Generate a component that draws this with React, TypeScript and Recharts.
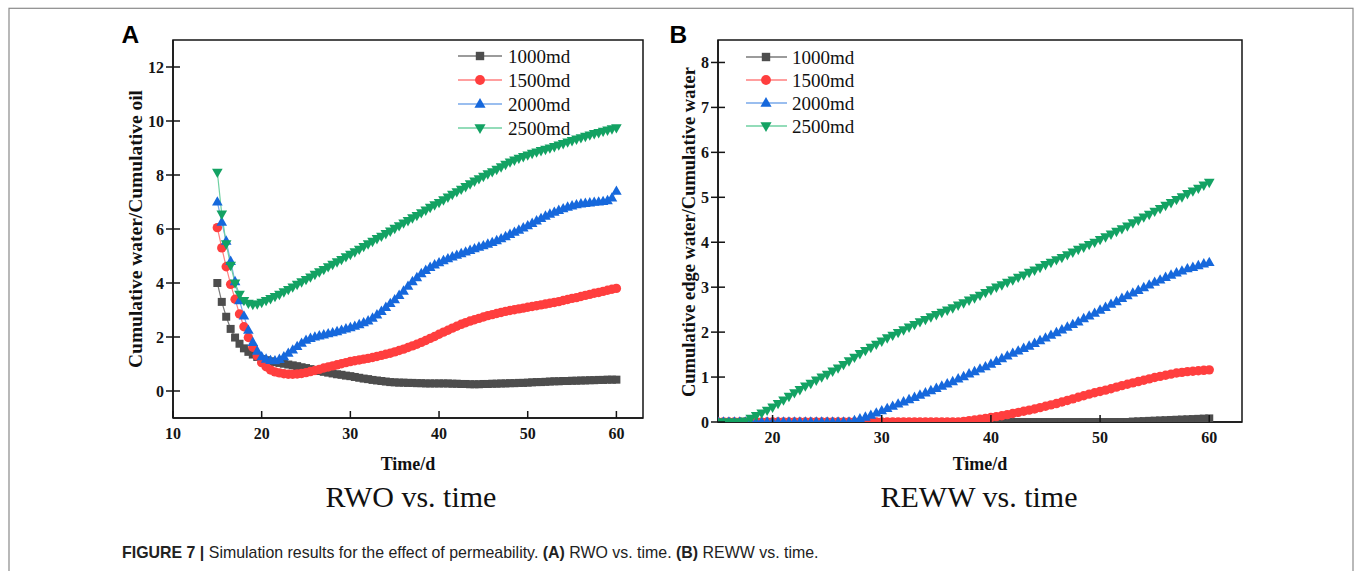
import React from 'react';
import { LineChart, Line, XAxis, YAxis, ReferenceArea } from 'recharts';

// ---------- data ----------
const seriesNames = ['1000md', '1500md', '2000md', '2500md'];

// time (days), sampled every half day from 15 to 60
const timeA = [
  15, 15.5, 16, 16.5, 17, 17.5, 18, 18.5, 19, 19.5,
  20, 20.5, 21, 21.5, 22, 22.5, 23, 23.5, 24, 24.5,
  25, 25.5, 26, 26.5, 27, 27.5, 28, 28.5, 29, 29.5,
  30, 30.5, 31, 31.5, 32, 32.5, 33, 33.5, 34, 34.5,
  35, 35.5, 36, 36.5, 37, 37.5, 38, 38.5, 39, 39.5,
  40, 40.5, 41, 41.5, 42, 42.5, 43, 43.5, 44, 44.5,
  45, 45.5, 46, 46.5, 47, 47.5, 48, 48.5, 49, 49.5,
  50, 50.5, 51, 51.5, 52, 52.5, 53, 53.5, 54, 54.5,
  55, 55.5, 56, 56.5, 57, 57.5, 58, 58.5, 59, 59.5,
  60,
];
// (A) RWO
const rwo1000 = [
  4.0, 3.3, 2.75, 2.3, 1.98, 1.75, 1.58, 1.45, 1.35, 1.26,
  1.18, 1.14, 1.1, 1.07, 1.04, 1.01, 0.98, 0.95, 0.92, 0.88,
  0.85, 0.81, 0.78, 0.74, 0.71, 0.68, 0.65, 0.62, 0.6, 0.57,
  0.55, 0.52, 0.49, 0.46, 0.44, 0.41, 0.39, 0.37, 0.35, 0.33,
  0.32, 0.31, 0.31, 0.3, 0.3, 0.29, 0.29, 0.28, 0.28, 0.28,
  0.28, 0.28, 0.28, 0.27, 0.27, 0.26, 0.26, 0.25, 0.25, 0.25,
  0.26, 0.26, 0.27, 0.27, 0.28, 0.28, 0.29, 0.29, 0.3, 0.3,
  0.31, 0.32, 0.33, 0.33, 0.34, 0.35, 0.36, 0.36, 0.37, 0.37,
  0.38, 0.38, 0.39, 0.39, 0.4, 0.4, 0.41, 0.41, 0.42, 0.42,
  0.42,
];
const rwo1500 = [
  6.05, 5.3, 4.6, 3.95, 3.4, 2.85, 2.38, 1.98, 1.62, 1.3,
  1.05, 0.9, 0.78, 0.71, 0.67, 0.64, 0.62, 0.62, 0.63, 0.65,
  0.68, 0.72, 0.76, 0.8, 0.85, 0.89, 0.93, 0.97, 1.01, 1.05,
  1.09, 1.12, 1.15, 1.18, 1.21, 1.24, 1.28, 1.32, 1.36, 1.4,
  1.45, 1.5, 1.55, 1.61, 1.67, 1.73, 1.8, 1.87, 1.95, 2.02,
  2.1, 2.18, 2.25, 2.33, 2.4, 2.47, 2.53, 2.59, 2.64, 2.69,
  2.74, 2.79, 2.83, 2.87, 2.91, 2.95, 2.98, 3.01, 3.04, 3.07,
  3.1, 3.13, 3.16, 3.19, 3.22, 3.25, 3.28, 3.31, 3.35, 3.39,
  3.43, 3.46, 3.5, 3.54, 3.58, 3.62, 3.65, 3.69, 3.73, 3.77,
  3.8,
];
const rwo2000 = [
  7.0, 6.25, 5.55, 4.8, 4.05, 3.35, 2.78, 2.25, 1.8, 1.48,
  1.27, 1.18, 1.13, 1.12, 1.17, 1.27, 1.4, 1.52, 1.65, 1.77,
  1.88, 1.95, 2.0, 2.04, 2.08, 2.12, 2.16, 2.2, 2.25, 2.3,
  2.35, 2.4, 2.46, 2.53, 2.6, 2.7, 2.82, 2.95, 3.1, 3.24,
  3.38, 3.54, 3.7, 3.88, 4.05, 4.2, 4.35, 4.47, 4.58, 4.67,
  4.75, 4.83, 4.9, 4.97, 5.03, 5.09, 5.15, 5.21, 5.27, 5.33,
  5.38, 5.44, 5.5, 5.57, 5.64, 5.72, 5.8, 5.88, 5.96, 6.04,
  6.12, 6.21, 6.3, 6.39, 6.48, 6.55, 6.62, 6.69, 6.75, 6.81,
  6.86, 6.9, 6.93, 6.95, 6.97, 6.99, 7.0, 7.02, 7.05, 7.15,
  7.4,
];
const rwo2500 = [
  8.1, 6.55, 5.45, 4.65, 4.0, 3.58, 3.35, 3.25, 3.21, 3.22,
  3.28, 3.35, 3.42, 3.5, 3.58, 3.67, 3.76, 3.85, 3.95, 4.04,
  4.13, 4.22, 4.32, 4.41, 4.5, 4.6, 4.69, 4.78, 4.87, 4.97,
  5.06, 5.15, 5.25, 5.35, 5.45, 5.54, 5.64, 5.73, 5.83, 5.92,
  6.02, 6.12, 6.22, 6.31, 6.41, 6.5, 6.6, 6.7, 6.8, 6.89,
  6.98, 7.08, 7.18, 7.28, 7.38, 7.47, 7.57, 7.67, 7.77, 7.86,
  7.95, 8.04, 8.12, 8.21, 8.3, 8.39, 8.48, 8.55, 8.62, 8.68,
  8.74, 8.8, 8.85, 8.9, 8.95, 9.0, 9.05, 9.11, 9.16, 9.22,
  9.27, 9.33, 9.38, 9.43, 9.48, 9.53, 9.57, 9.62, 9.66, 9.71,
  9.75,
];

// (B) REWW, same half-day sampling
const timeB = timeA;
const reww1000 = [
  0, 0, 0, 0, 0, 0, 0, 0, 0, 0,
  0, 0, 0, 0, 0, 0, 0, 0, 0, 0,
  0, 0, 0, 0, 0, 0, 0, 0, 0, 0,
  0, 0, 0, 0, 0, 0, 0, 0, 0, 0,
  0, 0, 0, 0, 0, 0, 0, 0, 0, 0,
  0, 0, 0, 0, 0, 0, 0, 0, 0, 0,
  0, 0, 0, 0, 0, 0, 0, 0, 0, 0,
  0, 0, 0, 0, 0, 0, 0.01, 0.015, 0.02, 0.025,
  0.03, 0.035, 0.04, 0.045, 0.05, 0.055, 0.06, 0.065, 0.07, 0.075,
  0.08,
];
const reww1500 = [
  0, 0, 0, 0, 0, 0, 0, 0, 0, 0,
  0, 0, 0, 0, 0, 0, 0, 0, 0, 0,
  0, 0, 0, 0, 0, 0, 0, 0, 0, 0,
  0, 0, 0, 0, 0, 0, 0, 0, 0, 0,
  0, 0, 0, 0, 0, 0.015, 0.03, 0.045, 0.06, 0.08,
  0.1, 0.12, 0.14, 0.165, 0.19, 0.215, 0.24, 0.265, 0.29, 0.32,
  0.35, 0.38, 0.41, 0.445, 0.48, 0.515, 0.55, 0.585, 0.62, 0.65,
  0.68, 0.71, 0.74, 0.775, 0.81, 0.84, 0.87, 0.9, 0.93, 0.96,
  0.99, 1.015, 1.04, 1.065, 1.09, 1.105, 1.12, 1.13, 1.14, 1.15,
  1.16,
];
const reww2000 = [
  0, 0, 0, 0, 0, 0, 0, 0, 0, 0,
  0, 0, 0, 0, 0, 0, 0, 0, 0, 0,
  0, 0, 0, 0, 0, 0.035, 0.07, 0.11, 0.15, 0.2,
  0.25, 0.3, 0.35, 0.4, 0.45, 0.5, 0.55, 0.6, 0.65, 0.7,
  0.75, 0.8, 0.85, 0.9, 0.96, 1.01, 1.07, 1.12, 1.18, 1.23,
  1.29, 1.35, 1.41, 1.47, 1.53, 1.58, 1.64, 1.69, 1.75, 1.81,
  1.87, 1.93, 1.99, 2.05, 2.11, 2.17, 2.23, 2.3, 2.36, 2.42,
  2.49, 2.55, 2.62, 2.68, 2.75, 2.81, 2.87, 2.93, 2.99, 3.05,
  3.11, 3.16, 3.22, 3.27, 3.32, 3.36, 3.41, 3.44, 3.48, 3.52,
  3.55,
];
const reww2500 = [
  0, 0, 0, 0, 0, 0.02, 0.08, 0.14, 0.2, 0.26,
  0.33, 0.41, 0.49, 0.57, 0.65, 0.72, 0.8, 0.86, 0.93, 1.0,
  1.06, 1.13, 1.2, 1.28, 1.36, 1.44, 1.52, 1.59, 1.66, 1.73,
  1.8, 1.87, 1.93, 1.99, 2.05, 2.11, 2.17, 2.23, 2.28, 2.34,
  2.39, 2.44, 2.49, 2.54, 2.6, 2.65, 2.71, 2.76, 2.82, 2.88,
  2.94, 3.0, 3.05, 3.11, 3.16, 3.22, 3.27, 3.33, 3.38, 3.44,
  3.5, 3.55, 3.61, 3.66, 3.72, 3.78, 3.84, 3.89, 3.95, 4.0,
  4.06, 4.12, 4.18, 4.24, 4.3, 4.36, 4.43, 4.49, 4.56, 4.62,
  4.69, 4.75, 4.82, 4.88, 4.95, 5.01, 5.08, 5.14, 5.2, 5.27,
  5.33,
];

const ticksAX = [10, 20, 30, 40, 50, 60];
const ticksAY = [0, 2, 4, 6, 8, 10, 12];
const ticksBX = [20, 30, 40, 50, 60];
const ticksBY = [0, 1, 2, 3, 4, 5, 6, 7, 8];

const dataA = timeA.map((t, i) => ({ t, s1: rwo1000[i], s2: rwo1500[i], s3: rwo2000[i], s4: rwo2500[i] }));
const dataB = timeB.map((t, i) => ({ t, s1: reww1000[i], s2: reww1500[i], s3: reww2000[i], s4: reww2500[i] }));

// ---------- styles ----------
const SERIF = "'Liberation Serif', 'Times New Roman', serif";
const SANS = "'Liberation Sans', Arial, sans-serif";
const AX = '#151515';
const markerColors = ['#4d4d4d', '#ff3e3e', '#1668dc', '#13a263'];
const lineColors = ['#7a7a7a', '#ff7f7f', '#78a8ea', '#6fd0a2'];
const shapes = ['square', 'circle', 'up', 'down'];

function Marker({ shape, cx, cy, fill, s = 1 }: { shape: string; cx: number; cy: number; fill: string; s?: number }) {
  if (shape === 'square') return <rect x={cx - 4 * s} y={cy - 4 * s} width={8 * s} height={8 * s} fill={fill} />;
  if (shape === 'circle') return <circle cx={cx} cy={cy} r={4.7 * s} fill={fill} />;
  if (shape === 'up')
    return <polygon points={`${cx},${cy - 5.8 * s} ${cx - 5.3 * s},${cy + 3.6 * s} ${cx + 5.3 * s},${cy + 3.6 * s}`} fill={fill} />;
  return <polygon points={`${cx - 5.3 * s},${cy - 3.6 * s} ${cx + 5.3 * s},${cy - 3.6 * s} ${cx},${cy + 5.8 * s}`} fill={fill} />;
}

const dotFn = (k: number) => (p: any) => {
  const { cx, cy, index } = p;
  if (cx == null || cy == null || isNaN(cx) || isNaN(cy)) return <g key={`e${k}-${index}`} />;
  return (
    <g key={`d${k}-${index}`}>
      <Marker shape={shapes[k]} cx={cx} cy={cy} fill={markerColors[k]} />
    </g>
  );
};

const tickTextStyle: React.CSSProperties = { fontFamily: SERIF, fontWeight: 700, fontSize: 16 };

const makeXTick = (axisY: number) => (p: any) => {
  const { x, payload, index } = p;
  return (
    <g key={`xt${index}`}>
      <line x1={x} x2={x} y1={axisY} y2={axisY - 7} stroke={AX} strokeWidth={1.5} />
      <text x={x} y={axisY + 21} textAnchor="middle" style={tickTextStyle} fill={AX}>
        {payload.value}
      </text>
    </g>
  );
};

const makeYTick = (axisX: number) => (p: any) => {
  const { y, payload, index } = p;
  return (
    <g key={`yt${index}`}>
      <line x1={axisX - 7} x2={axisX + 7} y1={y} y2={y} stroke={AX} strokeWidth={1.5} />
      <text x={axisX - 9} y={y + 5.5} textAnchor="end" style={tickTextStyle} fill={AX}>
        {payload.value}
      </text>
    </g>
  );
};

function Legend({ x0, x1, xm, xt, ys }: { x0: number; x1: number; xm: number; xt: number; ys: number[] }) {
  return (
    <g>
      {seriesNames.map((n, k) => (
        <g key={n}>
          <line x1={x0} x2={x1} y1={ys[k]} y2={ys[k]} stroke={lineColors[k]} strokeWidth={1.6} />
          <Marker shape={shapes[k]} cx={xm} cy={ys[k]} fill={markerColors[k]} s={1.05} />
          <text x={xt} y={ys[k] + 6.5} style={{ fontFamily: SERIF, fontSize: 19 }} fill="#111">
            {n}
          </text>
        </g>
      ))}
    </g>
  );
}

function renderLines() {
  return [0, 1, 2, 3].map((k) => (
    <Line
      key={k}
      type="linear"
      dataKey={`s${k + 1}`}
      name={seriesNames[k]}
      stroke={lineColors[k]}
      strokeWidth={1.2}
      dot={dotFn(k)}
      activeDot={false}
      isAnimationActive={false}
    />
  ));
}

export default function App() {
  return (
    <div style={{ position: 'absolute', left: 0, top: 0, width: 1355, height: 571, background: '#fff', overflow: 'hidden' }}>
      {/* Panel A */}
      <div style={{ position: 'absolute', left: 0, top: 0 }}>
        <LineChart width={700} height={470} data={dataA} margin={{ top: 40, right: 57, left: 113, bottom: 22 }}>
          <XAxis
            dataKey="t"
            type="number"
            domain={[10, 63]}
            ticks={ticksAX}
            interval={0}
            height={30}
            axisLine={{ stroke: AX, strokeWidth: 1.5 }}
            tickLine={false}
            tickSize={0}
            tick={makeXTick(418)}
          />
          <YAxis
            type="number"
            domain={[-1, 13]}
            ticks={ticksAY}
            interval={0}
            width={60}
            axisLine={{ stroke: AX, strokeWidth: 1.5 }}
            tickLine={false}
            tickSize={0}
            tick={makeYTick(173)}
          />
          <ReferenceArea x1={10} x2={63} y1={-1} y2={13} fill="none" fillOpacity={0} stroke={AX} strokeWidth={1.5} ifOverflow="visible" />
          {renderLines()}
        </LineChart>
      </div>

      {/* Panel B */}
      <div style={{ position: 'absolute', left: 660, top: 0 }}>
        <LineChart width={620} height={470} data={dataB} margin={{ top: 40, right: 38, left: 0, bottom: 18 }}>
          <XAxis
            dataKey="t"
            type="number"
            domain={[15, 63]}
            ticks={ticksBX}
            interval={0}
            height={30}
            allowDataOverflow
            axisLine={{ stroke: AX, strokeWidth: 1.5 }}
            tickLine={false}
            tickSize={0}
            tick={makeXTick(422)}
          />
          <YAxis
            type="number"
            domain={[0, 8.5]}
            ticks={ticksBY}
            interval={0}
            width={58}
            allowDataOverflow
            axisLine={{ stroke: AX, strokeWidth: 1.5 }}
            tickLine={false}
            tickSize={0}
            tick={makeYTick(58)}
          />
          <ReferenceArea x1={15} x2={63} y1={0} y2={8.5} fill="none" fillOpacity={0} stroke={AX} strokeWidth={1.5} ifOverflow="visible" />
          {renderLines()}
        </LineChart>
      </div>

      {/* Annotations */}
      <svg width={1355} height={571} style={{ position: 'absolute', left: 0, top: 0, pointerEvents: 'none' }}>
        <rect x={9} y={8.3} width={1344} height={620} fill="none" stroke="#8a8a8a" strokeWidth={1.2} />
        <text x={121.5} y={42.5} style={{ fontFamily: SANS, fontWeight: 700, fontSize: 24.5 }} fill="#000">A</text>
        <text x={669.5} y={42.5} style={{ fontFamily: SANS, fontWeight: 700, fontSize: 24.5 }} fill="#000">B</text>

        <text
          x={141.5}
          y={229}
          transform="rotate(-90 141.5 229)"
          textAnchor="middle"
          style={{ fontFamily: SERIF, fontWeight: 700, fontSize: 19.5 }}
          textLength={278}
          lengthAdjust="spacingAndGlyphs"
          fill="#111"
        >
          Cumulative water/Cumulative oil
        </text>
        <text
          x={695}
          y={232}
          transform="rotate(-90 695 232)"
          textAnchor="middle"
          style={{ fontFamily: SERIF, fontWeight: 700, fontSize: 18.5 }}
          textLength={330}
          lengthAdjust="spacingAndGlyphs"
          fill="#111"
        >
          Cumulative edge water/Cumulative water
        </text>

        <text x={408} y={470} textAnchor="middle" style={{ fontFamily: SERIF, fontWeight: 700, fontSize: 18 }} fill="#111">Time/d</text>
        <text x={980} y={470} textAnchor="middle" style={{ fontFamily: SERIF, fontWeight: 700, fontSize: 18 }} fill="#111">Time/d</text>

        <text x={411} y={507} textAnchor="middle" style={{ fontFamily: SERIF, fontSize: 30 }} fill="#111">RWO vs. time</text>
        <text x={979} y={507} textAnchor="middle" style={{ fontFamily: SERIF, fontSize: 30 }} fill="#111">REWW vs. time</text>

        <Legend x0={458} x1={502} xm={480} xt={508} ys={[56, 80, 104, 128]} />
        <Legend x0={746} x1={787} xm={766} xt={792} ys={[57, 80, 103, 126]} />

        <g transform="translate(122 558) scale(0.937 1)">
          <text x={0} y={0} style={{ fontFamily: SANS, fontSize: 17 }} fill="#222">
            <tspan fontWeight="bold">FIGURE 7 | </tspan>
            <tspan>Simulation results for the effect of permeability. </tspan>
            <tspan fontWeight="bold">(A)</tspan>
            <tspan> RWO vs. time. </tspan>
            <tspan fontWeight="bold">(B)</tspan>
            <tspan> REWW vs. time.</tspan>
          </text>
        </g>
      </svg>
    </div>
  );
}
